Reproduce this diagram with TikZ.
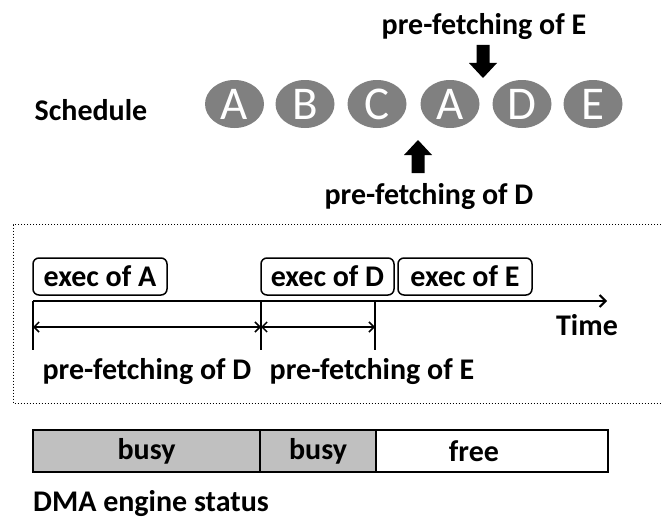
\documentclass[tikz,border=0pt]{standalone}
\usepackage{fontspec}
\setmainfont{Carlito}
\usetikzlibrary{shapes.geometric,arrows.meta}
\definecolor{jobgray}{RGB}{128,128,128}
\definecolor{busygray}{RGB}{192,192,192}

\tikzset{
  blockarrow/.pic={\fill (0,0) -- (-14,-15) -- (-6.5,-15) -- (-6.5,-33)
                   -- (6.5,-33) -- (6.5,-15) -- (14,-15) -- cycle;}
}

\begin{document}
\begin{tikzpicture}[x=1pt, y=-1pt,
    lbl/.style={font=\fontsize{30}{36}\selectfont\bfseries, inner sep=0pt},
    job/.style={ellipse, fill=jobgray, text=white, minimum width=59,
                minimum height=48, inner sep=0pt, font=\fontsize{47}{47}\selectfont},
    execbox/.style={lbl, draw, line width=1.5, rounded corners=6,
                    minimum width=134, minimum height=37},
    tick/.style={line width=2},
    span/.style={line width=1.5, {Straight Barb[length=5,width=10]}-{Straight Barb[length=5,width=10]}},
    statusbox/.style={lbl, draw, line width=1.5, minimum height=42}]
    \useasboundingbox (0,0) rectangle (661,519);

    % Schedule of jobs
    \node[lbl] (sched) at (91,110) {Schedule};
    \node[job] (jobA)  at (234.5,104) {A};
    \node[job] (jobB)  at (305,104) {B};
    \node[job] (jobC)  at (377,104) {C};
    \node[job] (jobA2) at (450,104) {A};
    \node[job] (jobD)  at (522,104) {D};
    \node[job] (jobE)  at (593,104) {E};

    % Pre-fetch points
    \node[lbl] (preE) at (484,27) {pre-fetching of E};
    \pic at (483,78) {blockarrow};
    \pic[rotate=180] at (418,140) {blockarrow};
    \node[lbl] (preD) at (429,197) {pre-fetching of D};

    % Timeline box
    \draw[dotted, line width=1] (661,224.5) -- (13,224.5) -- (13,403) -- (661,403);

    \node[execbox] (execA) at (100,276.5) {exec of A};
    \node[execbox, minimum width=133] (execD) at (327.5,276.5) {exec of D};
    \node[execbox] (execE) at (465,276.5) {exec of E};

    \coordinate (t0) at (33,301);
    \coordinate (t1) at (261,301);
    \coordinate (t2) at (375,301);
    \coordinate (tend) at (607,301);
    \draw[line width=2, -{Straight Barb[length=6,width=12]}] (t0) -- (tend);
    \node[lbl] (time) at (587,325) {Time};

    % Pre-fetch intervals
    \draw[tick] (t0) -- (33,350);
    \draw[line width=2.5] (t1) -- (261,350);
    \draw[tick] (t2) -- (375,350);
    \coordinate (s0) at (33,327);
    \coordinate (s1) at (261,327);
    \coordinate (s2) at (375,327);
    \draw[span] (s0) -- (s1);
    \draw[span] (s1) -- (s2);
    \node[lbl] (fetchD) at (147,372) {pre-fetching of D};
    \node[lbl] (fetchE) at (372,372) {pre-fetching of E};

    % DMA engine status
    \node[statusbox, fill=busygray, minimum width=227] (busy1) at (146.5,451) {busy};
    \node[statusbox, fill=busygray, minimum width=116] (busy2) at (318,451) {busy};
    \node[statusbox, minimum width=232, label={[lbl, xshift=-18]center:free}] (free) at (492,451) {};
    \node[lbl, anchor=base west] (dma) at (33,511) {DMA engine status};
\end{tikzpicture}
\end{document}
